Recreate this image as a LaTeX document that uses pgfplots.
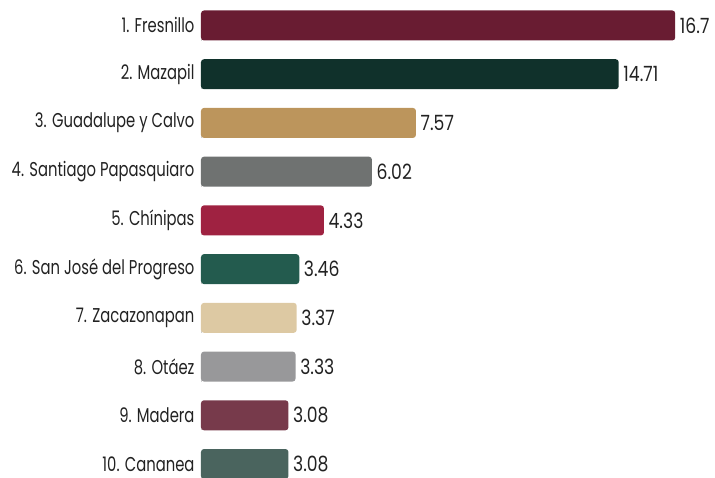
\documentclass[border=0pt]{standalone}
\usepackage{fontspec}
\setmainfont{Poppins}[FakeStretch=0.82]
\newfontfamily\lblfont{Poppins}[FakeStretch=0.74]
\usepackage{pgfplots}
\pgfplotsset{compat=1.18}

\definecolor{cFres}{HTML}{691C32}
\definecolor{cMaza}{HTML}{10312B}
\definecolor{cGuad}{HTML}{BC955C}
\definecolor{cSant}{HTML}{6F7271}
\definecolor{cChin}{HTML}{9F2241}
\definecolor{cSanJ}{HTML}{235B4E}
\definecolor{cZaca}{HTML}{DDC9A3}
\definecolor{cOtae}{HTML}{98989A}
\definecolor{cMade}{HTML}{773A4B}
\definecolor{cCana}{HTML}{4A645E}
\definecolor{txt}{HTML}{222222}

\begin{document}
\begin{tikzpicture}
\begin{axis}[
  at={(201pt,0pt)}, anchor=south west,
  scale only axis, width=514pt, height=478pt,
  xmin=0, xmax=18.1,
  ymin=-0.523, ymax=9.287, y dir=reverse,
  xbar, bar width=30pt, bar shift=0pt,
  hide x axis,
  axis y line*=left,
  y axis line style={draw=black!18, line width=0.6pt,
    dash pattern=on 3pt off 45.7pt, dash phase=11pt, -},
  ytick={0,...,9},
  yticklabels={1. Fresnillo, 2. Mazapil, 3. Guadalupe y Calvo,
    4. Santiago Papasquiaro, 5. Chínipas, 6. San José del Progreso,
    7. Zacazonapan, 8. Otáez, 9. Madera, 10. Cananea},
  major tick length=0pt,
  yticklabel style={font=\lblfont\fontsize{20}{24}\selectfont, text=txt, xshift=-3pt},
  point meta=explicit symbolic,
  nodes near coords,
  every node near coord/.append style={font=\fontsize{21}{24}\selectfont,
    text=txt, anchor=west, inner xsep=4.5pt},
  every axis plot/.append style={draw=none, rounded corners=3pt},
]
\addplot[fill=cFres] coordinates {(16.7,0) [16.7]};
\addplot[fill=cMaza] coordinates {(14.71,1) [14.71]};
\addplot[fill=cGuad] coordinates {(7.57,2) [7.57]};
\addplot[fill=cSant] coordinates {(6.02,3) [6.02]};
\addplot[fill=cChin] coordinates {(4.33,4) [4.33]};
\addplot[fill=cSanJ] coordinates {(3.46,5) [3.46]};
\addplot[fill=cZaca] coordinates {(3.37,6) [3.37]};
\addplot[fill=cOtae] coordinates {(3.33,7) [3.33]};
\addplot[fill=cMade] coordinates {(3.08,8) [3.08]};
\addplot[fill=cCana] coordinates {(3.08,9) [3.08]};
\end{axis}
\pgfresetboundingbox
\path (0pt,0pt) rectangle (715pt,478pt);
\end{tikzpicture}
\end{document}
